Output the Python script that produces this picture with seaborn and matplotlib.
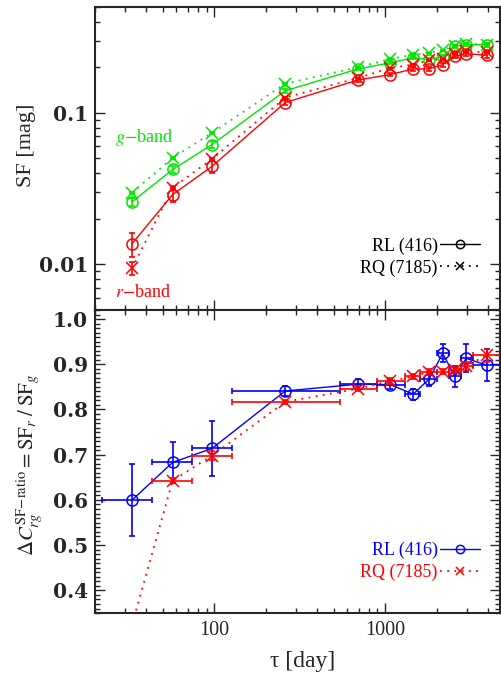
import numpy as np
import pandas as pd
import matplotlib
matplotlib.use("Agg")
import matplotlib.pyplot as plt
import seaborn as sns
from matplotlib.ticker import LogLocator, NullFormatter, MultipleLocator, FuncFormatter, FixedLocator
from matplotlib.lines import Line2D

# time-lag bins (days): centres and bin edges
tau = [33, 57, 97, 260, 695, 1070, 1460, 1805, 2170, 2560, 2980, 3940]
tau_edges = [22, 43, 74, 127, 543, 890, 1300, 1600, 2000, 2370, 2780, 3260, 4800]

# structure functions [mag]
sf_g_rl = [0.0259, 0.0423, 0.0618, 0.140, 0.195, 0.214, 0.231, 0.225, 0.236, 0.275, 0.282, 0.282]
sf_g_rq = [0.0297, 0.0505, 0.0738, 0.156, 0.200, 0.227, 0.242, 0.249, 0.259, 0.278, 0.286, 0.282]
sf_r_rl = [0.0137, 0.0289, 0.0444, 0.117, 0.165, 0.179, 0.195, 0.195, 0.208, 0.236, 0.246, 0.240]
sf_r_rq = [0.0094, 0.0321, 0.0497, 0.126, 0.170, 0.198, 0.208, 0.222, 0.227, 0.246, 0.255, 0.251]
err_g_rl = [0.0015, 0.002, 0.003, 0.004, 0.004, 0.005, 0.005, 0.005, 0.006, 0.006, 0.007, 0.008]
err_g_rq = [0.0005, 0.0006, 0.0008, 0.001, 0.001, 0.001, 0.001, 0.001, 0.001, 0.001, 0.001, 0.001]
err_r_rl = [0.0025, 0.003, 0.004, 0.004, 0.004, 0.005, 0.006, 0.006, 0.006, 0.007, 0.008, 0.010]
err_r_rq = [0.0009, 0.0006, 0.0008, 0.001, 0.001, 0.001, 0.001, 0.001, 0.001, 0.001, 0.001, 0.001]

# colour-variability ratio SF_r / SF_g
ratio_rl = [0.600, 0.683, 0.714, 0.841, 0.856, 0.855, 0.834, 0.867, 0.924, 0.873, 0.913, 0.898]
ratio_rl_err = [0.080, 0.046, 0.060, 0.012, 0.012, 0.010, 0.012, 0.015, 0.020, 0.024, 0.031, 0.036]
ratio_rq = [0.325, 0.643, 0.698, 0.817, 0.846, 0.863, 0.873, 0.883, 0.884, 0.887, 0.896, 0.920]
ratio_rq_err = [0.010, 0.006, 0.010, 0.004, 0.005, 0.006, 0.006, 0.006, 0.006, 0.006, 0.008, 0.014]

labels = ["RL (416)", "RQ (7185)"]

GREEN = "#00e600"
RED = "#ff0000"
BLUE = "#0000ff"
DOT = (0, (1, 3))

sns.set_style("ticks")
plt.rcParams["font.family"] = ["Liberation Serif", "DejaVu Serif"]
plt.rcParams["mathtext.fontset"] = "stix"
plt.rcParams["axes.linewidth"] = 1.5

fig = plt.figure(figsize=(5.02, 6.77), dpi=100)
ax1 = fig.add_axes([0.1892, 0.5421, 0.8068, 0.4476])
ax2 = fig.add_axes([0.1892, 0.0945, 0.8068, 0.4476])

for ax in (ax1, ax2):
    ax.set_xscale("log")
ax1.set_yscale("log")

t = np.array(tau, dtype=float)
edges = np.array(tau_edges, dtype=float)
xerr_bins = np.vstack([t - edges[:-1], edges[1:] - t])


def series(ax, y, err, color, ls, marker, xerr=None, lw=1.0, z=2):
    df = pd.DataFrame({"tau": tau, "val": y})
    sns.lineplot(data=df, x="tau", y="val", ax=ax, color=color, linestyle=ls,
                 linewidth=lw, marker=marker, markersize=8,
                 markerfacecolor="none", markeredgecolor=color,
                 markeredgewidth=1.1, sort=False, estimator=None, zorder=z)
    ax.errorbar(tau, y, yerr=err, xerr=xerr, fmt="none", ecolor=color,
                elinewidth=1.2, capsize=2, capthick=1.2, zorder=z)


# upper panel: SF in g and r bands
series(ax1, sf_g_rl, err_g_rl, GREEN, "-", "o")
series(ax1, sf_g_rq, err_g_rq, GREEN, DOT, "x", lw=1.3)
series(ax1, sf_r_rl, err_r_rl, RED, "-", "o", z=3)
series(ax1, sf_r_rq, err_r_rq, RED, DOT, "x", lw=1.3, z=3)

# lower panel: SF ratio
series(ax2, ratio_rl, ratio_rl_err, BLUE, "-", "o", xerr=xerr_bins)
series(ax2, ratio_rq, ratio_rq_err, RED, DOT, "x", xerr=xerr_bins, lw=1.3, z=3)

for ax in (ax1, ax2):
    ax.set_xlim(20, 4700)
    ax.xaxis.set_major_locator(LogLocator(base=10))
    ax.xaxis.set_minor_locator(LogLocator(base=10, subs=np.arange(2, 10)))
    ax.xaxis.set_minor_formatter(NullFormatter())
    ax.tick_params(which="both", direction="in", top=True, right=True,
                   labelsize=14.5, width=1.0, pad=6)
    ax.tick_params(which="major", length=7)
    ax.tick_params(which="minor", length=3.5)
    ax.set_xlabel("")
    ax.set_ylabel("")

ax1.set_ylim(0.005, 0.5)
ax1.yaxis.set_major_locator(FixedLocator([0.01, 0.1]))
ax1.yaxis.set_major_formatter(FuncFormatter(lambda v, p: f"{v:g}"))
ax1.yaxis.set_minor_locator(LogLocator(base=10, subs=np.arange(2, 10)))
ax1.yaxis.set_minor_formatter(NullFormatter())
ax1.tick_params(axis="x", labelbottom=False)

ax2.set_ylim(0.35, 1.02)
ax2.yaxis.set_major_locator(MultipleLocator(0.1))
ax2.yaxis.set_minor_locator(MultipleLocator(0.01))
ax2.yaxis.set_major_formatter(FuncFormatter(lambda v, p: f"{v:.1f}"))
ax2.xaxis.set_major_formatter(FuncFormatter(lambda v, p: f"{v:.0f}"))

# y tick labels use a heavier, wider serif face
for ax in (ax1, ax2):
    for lab in ax.get_yticklabels():
        lab.set_fontfamily("DejaVu Serif")
        lab.set_fontweight("bold")
        lab.set_fontsize(14.5)
    ax.tick_params(axis="y", pad=5)

# band labels
ax1.text(0.049, 0.568, r"$g$$-$band", transform=ax1.transAxes, color=GREEN,
         fontsize=13, ha="left", va="center")
ax1.text(0.049, 0.059, r"$r$$-$band", transform=ax1.transAxes, color=RED,
         fontsize=13, ha="left", va="center")


def legend(ax, colors, text_colors, anchor):
    handles = [
        Line2D([], [], color=colors[0], ls="-", lw=1.0, marker="o", ms=6,
               mfc="none", mec=colors[0], mew=1.1),
        Line2D([], [], color=colors[1], ls=DOT, lw=1.3, marker="x", ms=6,
               mec=colors[1], mew=1.1),
    ]
    ax.legend(handles, labels, loc="lower right", bbox_to_anchor=anchor,
              frameon=False, markerfirst=False, numpoints=1, fontsize=13,
              handlelength=2.2, handletextpad=0.15, labelspacing=0.25,
              borderpad=0, borderaxespad=0, labelcolor=text_colors)


legend(ax1, ["black", "black"], ["black", "black"], (0.951, 0.11))
legend(ax2, [BLUE, RED], [BLUE, RED], (0.951, 0.105))

fig.text(27 / 502, 1 - 145 / 677, "SF [mag]", rotation=90, ha="center",
         va="center", fontsize=16)
fig.text(30 / 502, 1 - 465 / 677,
         r"$\Delta C_{rg}^{\mathrm{SF\!-\!ratio}} = \mathrm{SF}_r\;/\;\mathrm{SF}_g$",
         rotation=90, ha="center", va="center", fontsize=15)
fig.text(303 / 502, 1 - 662 / 677, "τ [day]", ha="center", va="center",
         fontsize=17)

fig.savefig("out.png", dpi=100)
